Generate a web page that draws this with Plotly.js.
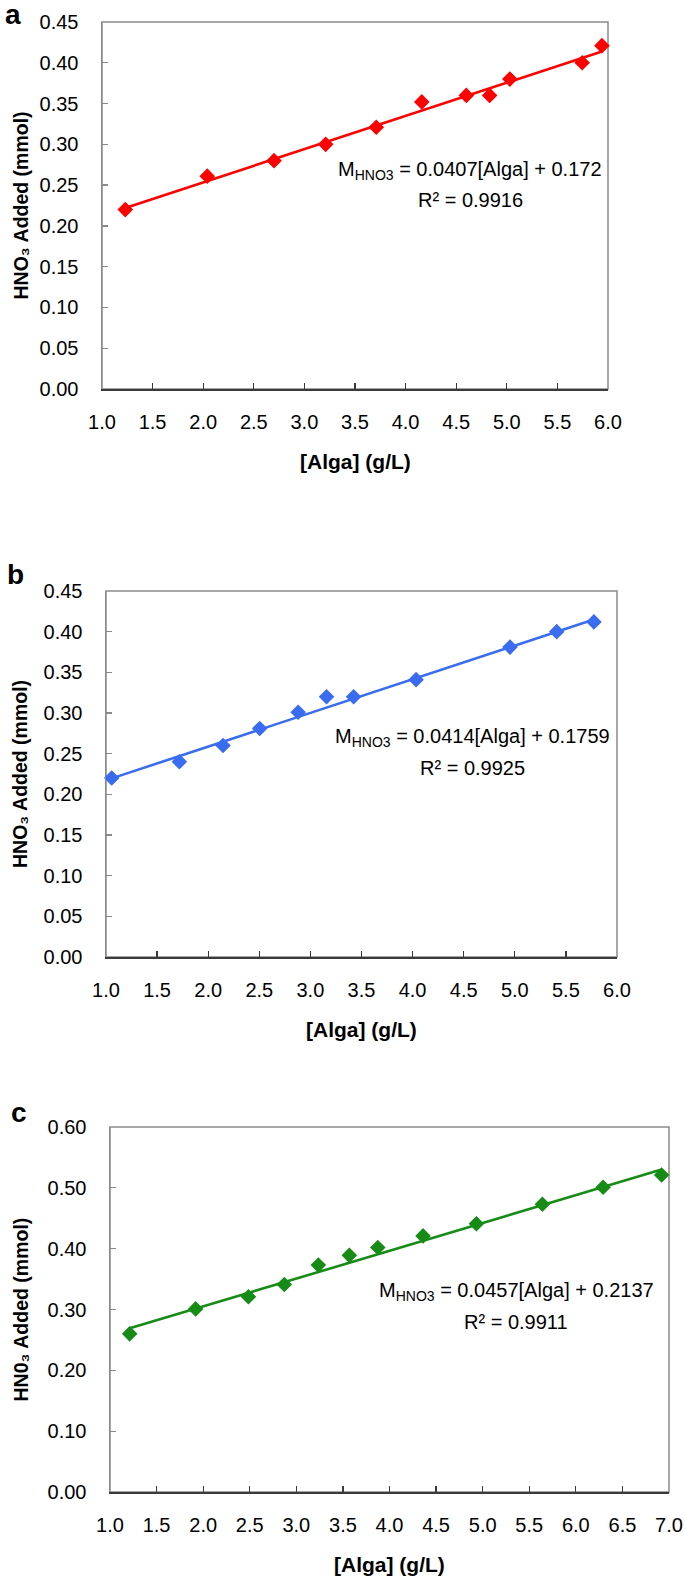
<!DOCTYPE html>
<html>
<head>
<meta charset="utf-8">
<script src="https://cdn.plot.ly/plotly-3.0.1.min.js"></script>
<style>
  html, body { margin: 0; padding: 0; background: #fff; }
  #chart { width: 685px; height: 1579px; }
</style>
</head>
<body>
<div id="chart"></div>
<script>
// ---- Data ----
const algaA = [1.23, 2.04, 2.70, 3.21, 3.71, 4.16, 4.60, 4.83, 5.03, 5.745, 5.94];
const hno3A = [0.220, 0.261, 0.280, 0.300, 0.321, 0.352, 0.360, 0.360, 0.380, 0.400, 0.421];

const algaB = [1.056, 1.718, 2.145, 2.504, 2.88, 3.158, 3.423, 4.034, 4.953, 5.41, 5.774];
const hno3B = [0.220, 0.240, 0.260, 0.281, 0.301, 0.320, 0.320, 0.341, 0.381, 0.400, 0.412];

const algaC = [1.211, 1.919, 2.486, 2.871, 3.236, 3.569, 3.874, 4.36, 4.933, 5.641, 6.293, 6.921];
const hno3C = [0.260, 0.301, 0.321, 0.341, 0.373, 0.389, 0.402, 0.421, 0.441, 0.473, 0.501, 0.521];

// trendline coefficients [slope, intercept]
const fitA = [0.0407, 0.172];
const fitB = [0.0414, 0.1759];
const fitC = [0.0457, 0.2137];

const eqA = ["M<sub>HNO3</sub> = 0.0407[Alga] + 0.172", "R\u00B2 = 0.9916"];
const eqB = ["M<sub>HNO3</sub> = 0.0414[Alga] + 0.1759", "R\u00B2 = 0.9925"];
const eqC = ["M<sub>HNO3</sub> = 0.0457[Alga] + 0.2137", "R\u00B2 = 0.9911"];

const yTitleAB = "HNO\u2083 Added (mmol)";
const yTitleC = "HN0\u2083 Added (mmol)";
const xTitle = "[Alga] (g/L)";
const panelLetters = ["a", "b", "c"];

// ---- Layout geometry ----
const W = 685, H = 1579;
const FONT = "Liberation Sans, Arial, sans-serif";
const boxes = [ // [left, right, top, bottom] in pixels
  [102, 608, 22, 389],
  [106, 617, 591, 957],
  [110, 669, 1127, 1492]
];
const colors = ["#ff0000", "#3a6cf0", "#168c16"];
const xr = [[1, 6], [1, 6], [1, 7]];
const yr = [[0, 0.45], [0, 0.45], [0, 0.6]];
const ydt = [0.05, 0.05, 0.1];

function px2x(p) { return p / W; }
function py2y(p) { return 1 - p / H; }

const sets = [
  [algaA, hno3A, fitA, eqA, yTitleAB],
  [algaB, hno3B, fitB, eqB, yTitleAB],
  [algaC, hno3C, fitC, eqC, yTitleC]
];

const eqPos = [ // center x, line1 y, line2 y (pixels)
  [470, 170, 200],
  [473, 737, 768],
  [516, 1291, 1322]
];
const letterPos = [[13, 15], [16, 574], [19, 1112]];

const traces = [];
const layout = {
  width: W, height: H,
  margin: {l: 0, r: 0, t: 0, b: 0},
  paper_bgcolor: "#fff", plot_bgcolor: "#fff",
  showlegend: false,
  font: {family: FONT, color: "#000"},
  annotations: [],
  shapes: []
};

sets.forEach((s, i) => {
  const [xs, ys, fit, eq, ytitle] = s;
  const sfx = i === 0 ? "" : String(i + 1);
  const xa = "x" + sfx, ya = "y" + sfx;
  const b = boxes[i];
  const xmin = Math.min(...xs), xmax = Math.max(...xs);
  traces.push({
    x: [xmin, xmax], y: [fit[0] * xmin + fit[1], fit[0] * xmax + fit[1]],
    mode: "lines", line: {color: colors[i], width: 2.6},
    xaxis: xa, yaxis: ya, hoverinfo: "skip", cliponaxis: false
  });
  traces.push({
    x: xs, y: ys, mode: "markers",
    marker: {symbol: "diamond", size: 12, color: colors[i]},
    xaxis: xa, yaxis: ya, cliponaxis: false
  });
  layout["xaxis" + sfx] = {
    domain: [px2x(b[0]), px2x(b[1])], anchor: ya,
    range: xr[i], dtick: 0.5, tick0: 1, tickformat: ".1f",
    showgrid: false, zeroline: false,
    showline: true, linecolor: "#3a3a3a", linewidth: 1.5,
    ticks: "inside", ticklen: 6, tickwidth: 1.3, tickcolor: "#3a3a3a",
    ticklabelstandoff: 14,
    tickfont: {family: FONT, size: 20, color: "#000"}
  };
  layout["yaxis" + sfx] = {
    domain: [py2y(b[3]), py2y(b[2])], anchor: xa,
    range: yr[i], dtick: ydt[i], tick0: 0, tickformat: ".2f",
    showgrid: false, zeroline: false,
    showline: true, linecolor: "#8a8a8a", linewidth: 1.5,
    ticks: "inside", ticklen: 6, tickwidth: 1.3, tickcolor: "#8a8a8a",
    ticklabelstandoff: 18,
    tickfont: {family: FONT, size: 20, color: "#000"}
  };
  // plot-area border (top/right)
  layout.shapes.push({
    type: "rect", xref: xa + " domain", yref: ya + " domain",
    x0: 0, x1: 1, y0: 0, y1: 1,
    line: {color: "#8a8a8a", width: 1.5}, layer: "below"
  });
  // x-axis title
  layout.annotations.push({
    xref: "paper", yref: "paper",
    x: px2x((b[0] + b[1]) / 2), y: py2y(b[3] + 72),
    text: xTitle, showarrow: false, xanchor: "center", yanchor: "middle",
    font: {family: FONT, size: 21, color: "#000", weight: "bold"}
  });
  // y-axis title
  layout.annotations.push({
    xref: "paper", yref: "paper",
    x: px2x(20), y: py2y((b[2] + b[3]) / 2),
    text: ytitle, textangle: -90, showarrow: false,
    xanchor: "center", yanchor: "middle",
    font: {family: FONT, size: 19.5, color: "#000", weight: "bold"}
  });
  // equation
  const ep = eqPos[i];
  layout.annotations.push({
    xref: "paper", yref: "paper", x: px2x(ep[0]), y: py2y(ep[1]),
    text: eq[0], showarrow: false, xanchor: "center", yanchor: "middle",
    font: {family: FONT, size: 20, color: "#000"}
  });
  layout.annotations.push({
    xref: "paper", yref: "paper", x: px2x(ep[0]), y: py2y(ep[2]),
    text: eq[1], showarrow: false, xanchor: "center", yanchor: "middle",
    font: {family: FONT, size: 20, color: "#000"}
  });
  // panel letter
  const lp = letterPos[i];
  layout.annotations.push({
    xref: "paper", yref: "paper", x: px2x(lp[0]), y: py2y(lp[1]),
    text: panelLetters[i], showarrow: false,
    xanchor: "center", yanchor: "middle",
    font: {family: FONT, size: 28, color: "#000", weight: "bold"}
  });
});

Plotly.newPlot("chart", traces, layout, {staticPlot: true, displayModeBar: false});
</script>
</body>
</html>
